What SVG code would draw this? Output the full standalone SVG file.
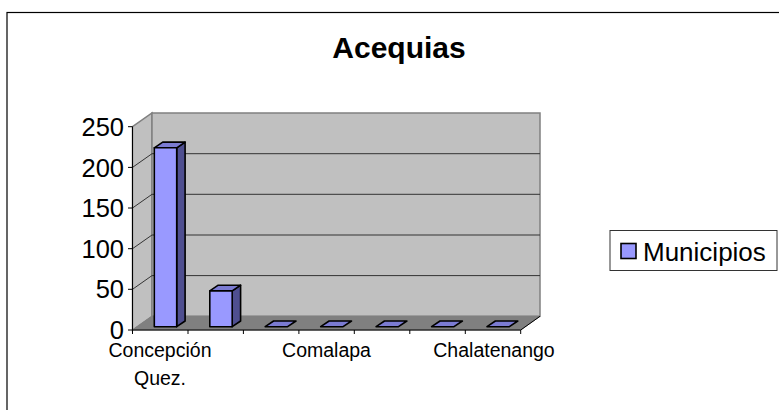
<svg xmlns="http://www.w3.org/2000/svg" width="779" height="410" viewBox="0 0 779 410">
<style>
text{font-family:"Liberation Sans",Arial,sans-serif;fill:#000}
.wall{fill:#c0c0c0;stroke:#808080;stroke-width:1.5}
.floor{fill:#808080;stroke:#808080;stroke-width:1}
.grid{stroke:#333;stroke-width:1;fill:none}
.axis{stroke:#000;stroke-width:1;fill:none}
.front{fill:#9999ff;stroke:#000;stroke-width:1.6;stroke-linejoin:round}
.top{fill:#7b7bd2;stroke:#000;stroke-width:1.6;stroke-linejoin:round}
.side{fill:#4f4f90;stroke:#000;stroke-width:1.6;stroke-linejoin:round}
.ylab{font-size:25.5px;text-anchor:end}
.xlab{font-size:19.5px;text-anchor:middle}
</style>
<rect x="0" y="0" width="779" height="410" fill="#fff"/>
<rect x="7" y="12.5" width="790" height="420" fill="none" stroke="#000" stroke-width="1.2"/>
<g id="title"><text x="399" y="57.5" font-size="30" font-weight="bold" text-anchor="middle">Acequias</text></g>
<g id="plot">
<polygon class="wall" points="132.5,126.7 152,113 152,316.3 132.5,330"/>
<rect class="wall" x="152" y="113" width="388" height="203.3"/>
<polygon class="floor" points="132.5,330 152,316.3 540,316.3 520.7,330"/>
<g class="grid">
<line x1="152" y1="275.6" x2="540" y2="275.6"/>
<line x1="152" y1="235" x2="540" y2="235"/>
<line x1="152" y1="194.3" x2="540" y2="194.3"/>
<line x1="152" y1="153.7" x2="540" y2="153.7"/>
<line x1="132.5" y1="289.3" x2="152" y2="275.6"/>
<line x1="132.5" y1="248.7" x2="152" y2="235"/>
<line x1="132.5" y1="208" x2="152" y2="194.3"/>
<line x1="132.5" y1="167.4" x2="152" y2="153.7"/>
</g>
</g>
<g id="connectors">
<line class="axis" x1="132.5" y1="126.7" x2="132.5" y2="330"/>
<line class="axis" x1="132.5" y1="330" x2="520.7" y2="330"/>
<line class="axis" x1="520.7" y1="330" x2="540" y2="316.3"/>
<g class="axis">
<line x1="128" y1="330" x2="132.5" y2="330"/>
<line x1="128" y1="289.3" x2="132.5" y2="289.3"/>
<line x1="128" y1="248.7" x2="132.5" y2="248.7"/>
<line x1="128" y1="208" x2="132.5" y2="208"/>
<line x1="128" y1="167.4" x2="132.5" y2="167.4"/>
<line x1="128" y1="126.7" x2="132.5" y2="126.7"/>
<line x1="132.5" y1="330" x2="132.5" y2="334"/>
<line x1="188" y1="330" x2="188" y2="334"/>
<line x1="243.4" y1="330" x2="243.4" y2="334"/>
<line x1="298.9" y1="330" x2="298.9" y2="334"/>
<line x1="354.3" y1="330" x2="354.3" y2="334"/>
<line x1="409.8" y1="330" x2="409.8" y2="334"/>
<line x1="465.3" y1="330" x2="465.3" y2="334"/>
<line x1="520.7" y1="330" x2="520.7" y2="334"/>
</g>
</g>
<g id="bar1">
<polygon class="side" points="176.7,147.8 185.1,142.1 185.1,321 176.7,326.7"/>
<polygon class="top" points="154.3,147.8 162.7,142.1 185.1,142.1 176.7,147.8"/>
<rect class="front" x="154.3" y="147.8" width="22.4" height="178.9"/>
</g>
<g id="bar2">
<polygon class="side" points="232.2,290.9 240.6,285.2 240.6,321 232.2,326.7"/>
<polygon class="top" points="209.8,290.9 218.2,285.2 240.6,285.2 232.2,290.9"/>
<rect class="front" x="209.8" y="290.9" width="22.4" height="35.8"/>
</g>
<g id="bar3"><polygon class="top" points="265.2,326.7 273.6,321 296,321 287.6,326.7"/></g>
<g id="bar4"><polygon class="top" points="320.7,326.7 329.1,321 351.5,321 343.1,326.7"/></g>
<g id="bar5"><polygon class="top" points="376.1,326.7 384.5,321 406.9,321 398.5,326.7"/></g>
<g id="bar6"><polygon class="top" points="431.6,326.7 440,321 462.4,321 454,326.7"/></g>
<g id="bar7"><polygon class="top" points="487,326.7 495.4,321 517.8,321 509.4,326.7"/></g>
<g id="yaxis-labels">
<text class="ylab" x="124" y="339">0</text>
<text class="ylab" x="124" y="298.4">50</text>
<text class="ylab" x="124" y="257.8">100</text>
<text class="ylab" x="124" y="217.1">150</text>
<text class="ylab" x="124" y="176.5">200</text>
<text class="ylab" x="124" y="135.8">250</text>
</g>
<g id="xaxis-labels">
<text class="xlab" x="160" y="357.3">Concepción</text>
<text class="xlab" x="160" y="385">Quez.</text>
<text class="xlab" x="326.5" y="357.3">Comalapa</text>
<text class="xlab" x="494" y="357.3">Chalatenango</text>
</g>
<g id="legend">
<rect x="610" y="230.5" width="167" height="40" fill="#fff" stroke="#333" stroke-width="1"/>
<rect x="621" y="243.5" width="15" height="15" fill="#9999ff" stroke="#000" stroke-width="1.6"/>
<text x="643" y="260.5" font-size="26">Municipios</text>
</g>
</svg>
